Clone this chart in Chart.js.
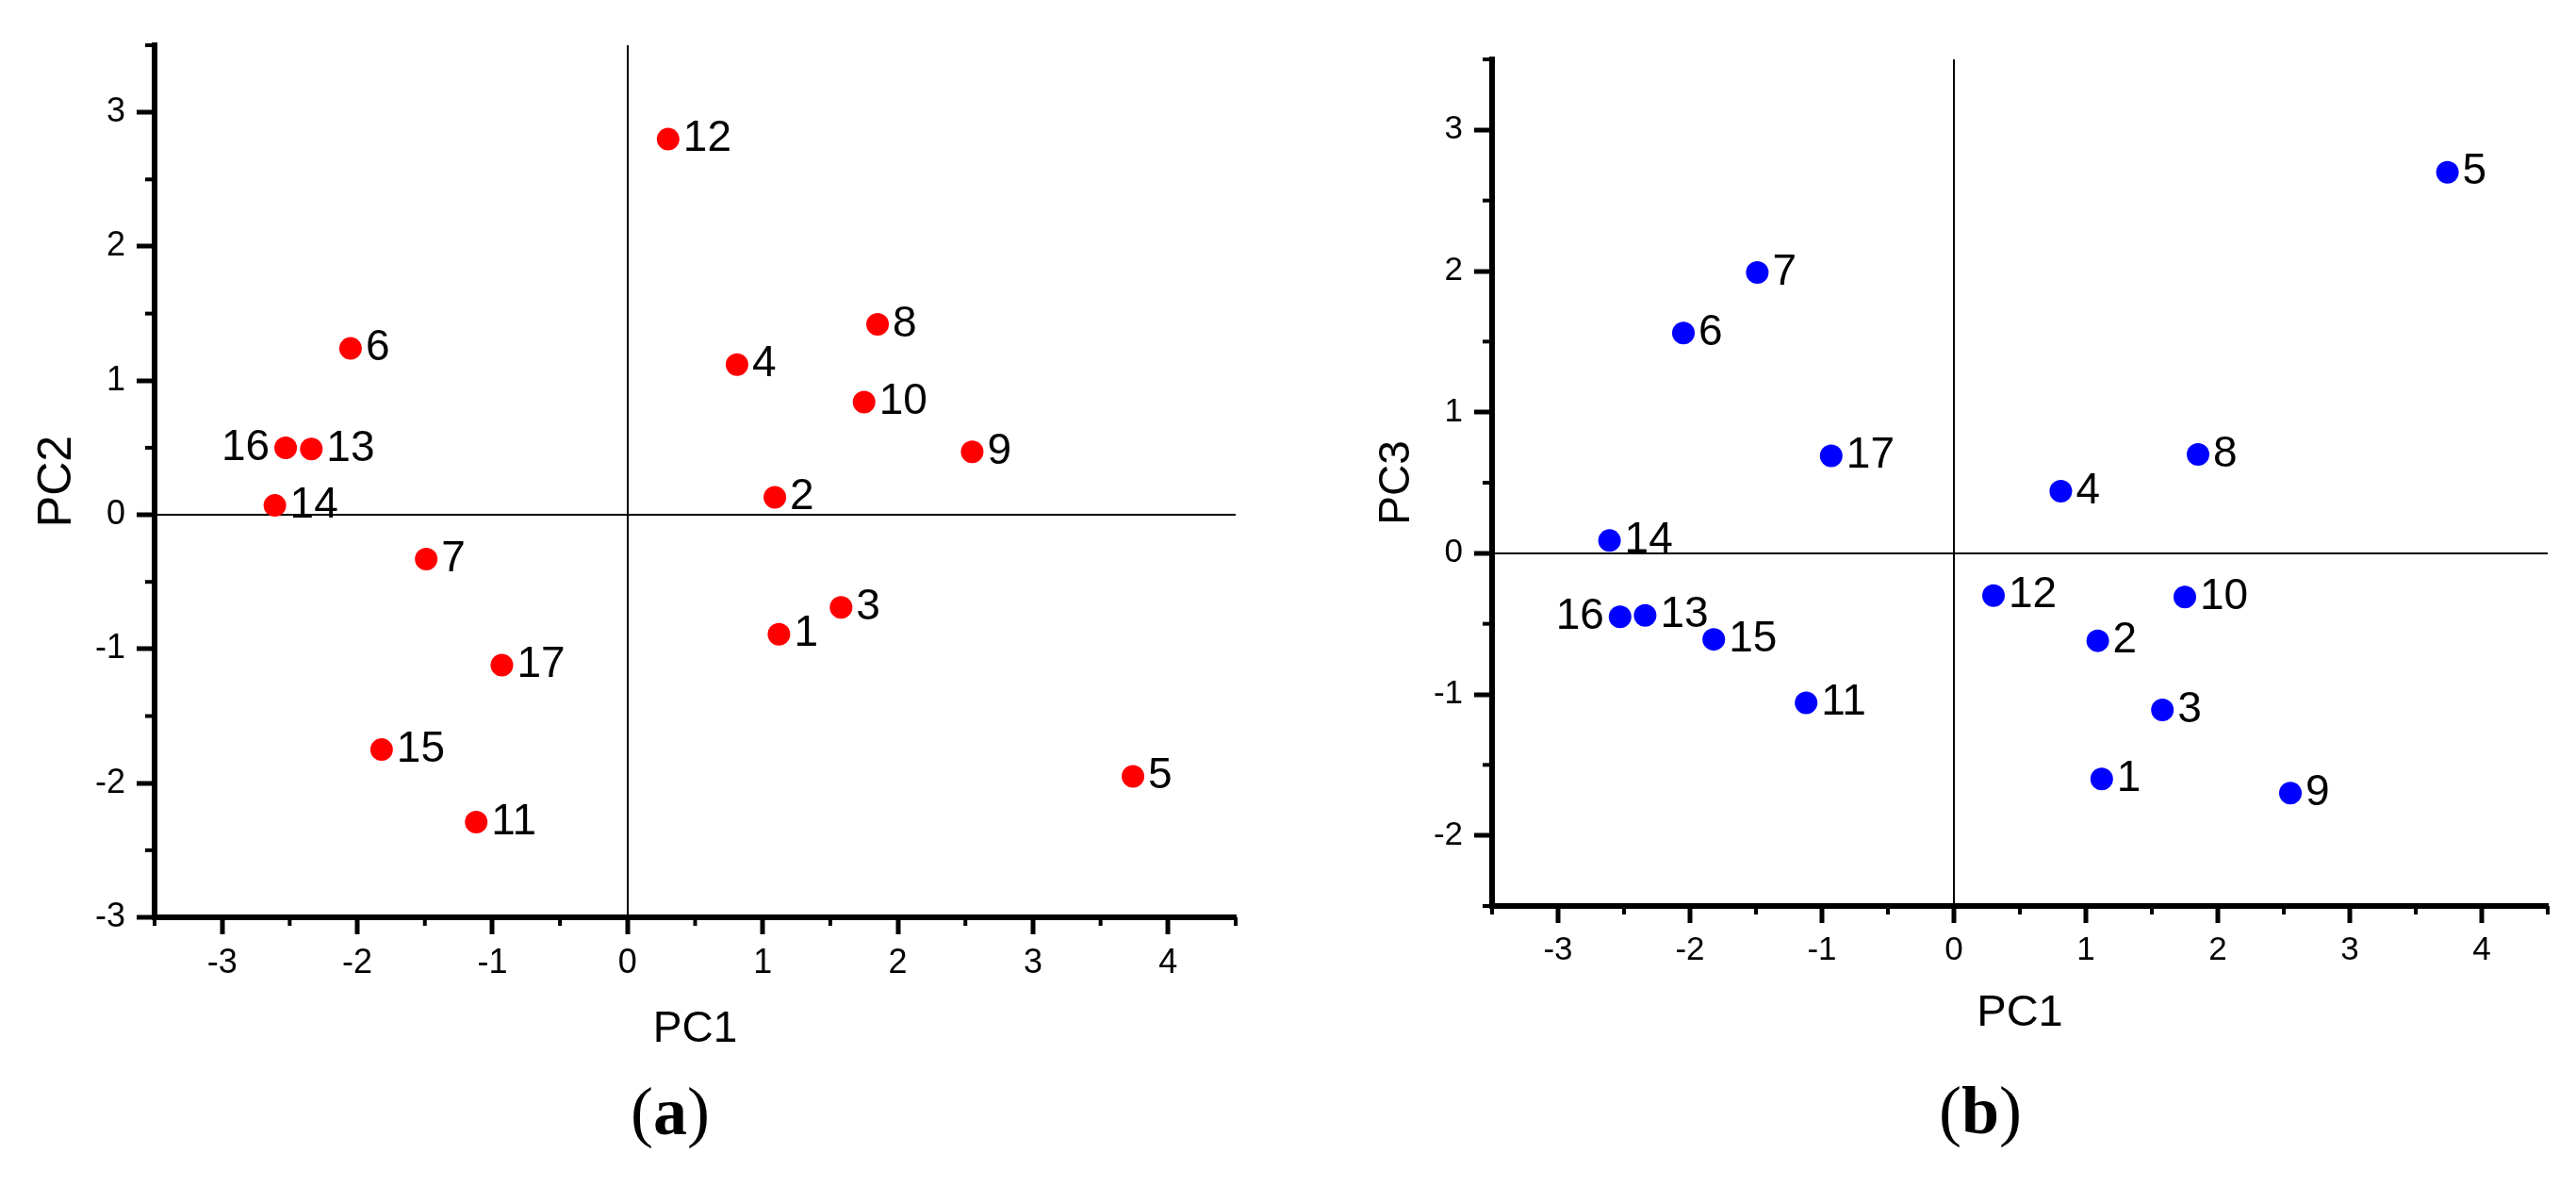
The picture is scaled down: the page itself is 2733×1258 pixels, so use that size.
<!DOCTYPE html>
<html>
<head>
<meta charset="utf-8">
<script src="https://cdn.jsdelivr.net/npm/chart.js@4.4.1/dist/chart.umd.min.js"></script>
<style>
  body { margin: 0; background: #fff; width: 2733px; height: 1258px; position: relative; overflow: hidden; }
  canvas { position: absolute; top: 0; }
  #chartA { left: 0; }
  #chartB { left: 1366px; }
  .caption { position: absolute; width: 200px; text-align: center; font-family: "Liberation Serif", "Times New Roman", serif; font-size: 72px; line-height: 72px; color: #000; }
</style>
</head>
<body>
<canvas id="chartA" width="1366" height="1123"></canvas>
<canvas id="chartB" width="1367" height="1110"></canvas>
<div class="caption" style="left:611px; top:1143px;">(<b>a</b>)</div>
<div class="caption" style="left:2001px; top:1142px;">(<b>b</b>)</div>
<script>
// muestras y puntuaciones de los componentes principales
var samples = ['1', '2', '3', '4', '5', '6', '7', '8', '9', '10', '11', '12', '13', '14', '15', '16', '17'];
var pc1 = [1.12, 1.09, 1.58, 0.81, 3.74, -2.05, -1.49, 1.85, 2.55, 1.75, -1.12, 0.30, -2.34, -2.61, -1.82, -2.53, -0.93];
var pc2 = [-0.89, 0.13, -0.69, 1.12, -1.95, 1.24, -0.33, 1.42, 0.47, 0.84, -2.29, 2.80, 0.49, 0.07, -1.75, 0.50, -1.12];
var pc3 = [-1.60, -0.62, -1.11, 0.44, 2.70, 1.56, 1.99, 0.70, -1.70, -0.31, -1.06, -0.30, -0.44, 0.09, -0.61, -0.45, 0.69];
// etiquetas que van a la izquierda del punto
var leftLabels = ['16'];

var FONT = '"Liberation Sans", Arial, sans-serif';

// etiquetas de cada punto
var pointLabels = {
  id: 'pointLabels',
  afterDatasetsDraw: function (chart) {
    var ctx = chart.ctx;
    var meta = chart.getDatasetMeta(0);
    ctx.save();
    ctx.font = '46px ' + FONT;
    ctx.fillStyle = '#000';
    ctx.textBaseline = 'middle';
    meta.data.forEach(function (pt, i) {
      var name = samples[i];
      if (leftLabels.indexOf(name) >= 0) {
        ctx.textAlign = 'right';
        ctx.fillText(name, pt.x - 17, pt.y);
      } else {
        ctx.textAlign = 'left';
        ctx.fillText(name, pt.x + 16, pt.y);
      }
    });
    ctx.restore();
  }
};

// marcas menores cada 0.5
var minorTicks = {
  id: 'minorTicks',
  afterDraw: function (chart) {
    var ctx = chart.ctx;
    var xs = chart.scales.x, ys = chart.scales.y;
    ctx.save();
    ctx.strokeStyle = '#000';
    ctx.lineWidth = 4;
    for (var v = xs.min; v <= xs.max + 1e-9; v += 0.5) {
      if (Math.abs(v - Math.round(v)) < 1e-9) continue;
      var px = xs.getPixelForValue(v);
      ctx.beginPath(); ctx.moveTo(px, xs.top); ctx.lineTo(px, xs.top + 9); ctx.stroke();
    }
    for (var w = ys.min; w <= ys.max + 1e-9; w += 0.5) {
      if (Math.abs(w - Math.round(w)) < 1e-9) continue;
      var py = ys.getPixelForValue(w);
      ctx.beginPath(); ctx.moveTo(ys.right, py); ctx.lineTo(ys.right - 10, py); ctx.stroke();
    }
    ctx.restore();
  }
};

// marcas principales solo en los enteros
function integerTicks(scale) {
  var ticks = [];
  for (var v = Math.ceil(scale.min); v <= Math.floor(scale.max); v++) ticks.push({ value: v });
  scale.ticks = ticks;
}

function axisGrid(tickLength) {
  return {
    drawOnChartArea: true,
    color: function (c) { return c.tick && c.tick.value === 0 ? '#000' : 'rgba(0,0,0,0)'; },
    lineWidth: 2,
    tickColor: '#000',
    tickWidth: 5,
    tickLength: tickLength
  };
}

function pcaScatter(selector, yValues, yName, color, opts) {
  var ctx = document.getElementById(selector);
  var data = samples.map(function (s, i) { return { x: pc1[i], y: yValues[i] }; });
  return new Chart(ctx, {
    type: 'scatter',
    data: {
      datasets: [{
        data: data,
        backgroundColor: color,
        borderWidth: 0,
        pointRadius: 12,
        pointHoverRadius: 12
      }]
    },
    options: {
      responsive: false,
      animation: false,
      events: [],
      layout: { padding: { left: 0, right: opts.padRight, top: opts.padTop, bottom: 0 } },
      plugins: { legend: { display: false }, tooltip: { enabled: false } },
      scales: {
        x: {
          type: 'linear',
          min: -3.5, max: 4.5,
          afterBuildTicks: integerTicks,
          afterFit: function (s) { s.height = opts.xHeight; },
          border: { display: true, color: '#000', width: 6 },
          grid: axisGrid(18),
          ticks: { color: '#000', padding: opts.xTickPad, maxRotation: 0,
                   callback: function (v) { return String(v); },
                   font: { family: FONT, size: opts.tickSize } },
          title: { display: true, text: 'PC1', color: '#000', padding: { top: 0, bottom: opts.xTitlePad },
                   font: { family: FONT, size: opts.xTitleSize } }
        },
        y: {
          type: 'linear',
          min: opts.yMin, max: 3.5,
          afterBuildTicks: integerTicks,
          afterFit: function (s) { s.width = opts.yWidth; },
          border: { display: true, color: '#000', width: 6 },
          grid: axisGrid(19),
          ticks: { color: '#000', padding: 12,
                   callback: function (v) { return String(v); },
                   font: { family: FONT, size: opts.tickSize } },
          title: { display: true, text: yName, color: '#000', padding: { top: opts.yTitlePad, bottom: 0 },
                   font: { family: FONT, size: opts.yTitleSize } }
        }
      }
    },
    plugins: [pointLabels, minorTicks]
  });
}

// Gráfico (a): PC1 vs PC2
pcaScatter('chartA', pc2, 'PC2', '#ff0000', {
  padTop: 48, padRight: 55, xHeight: 150, yWidth: 164, yMin: -3,
  tickSize: 36, xTickPad: 9, xTitleSize: 46, xTitlePad: 3, yTitleSize: 50, yTitlePad: 31
});

// Gráfico (b): PC1 vs PC3
pcaScatter('chartB', pc3, 'PC3', '#0000ff', {
  padTop: 63, padRight: 30, xHeight: 149, yWidth: 217, yMin: -2.5,
  tickSize: 35, xTickPad: 8, xTitleSize: 47, xTitlePad: 7, yTitleSize: 46, yTitlePad: 89
});
</script>
</body>
</html>
